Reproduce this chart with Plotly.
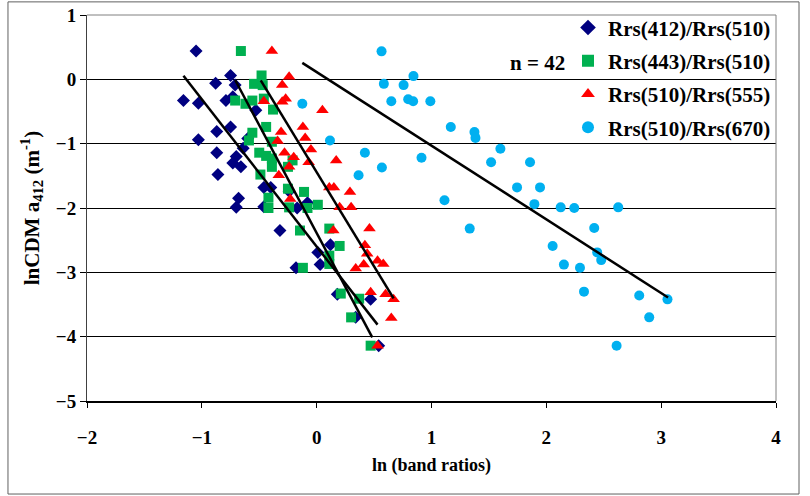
import plotly.graph_objects as go

# ---------------- data ----------------
names = ["Rrs(412)/Rrs(510)", "Rrs(443)/Rrs(510)", "Rrs(510)/Rrs(555)", "Rrs(510)/Rrs(670)"]

x412 = [-1.05, -0.75, -0.88, -0.71, -1.16, -1.03, -0.79, -0.73, -0.53, -0.75, -0.87, -1.03,
        -0.60, -0.64, -0.87, -0.70, -0.73, -0.66, -0.86, -0.46, -0.40, -0.68, -0.70, -0.32,
        -0.46, -0.17, -0.08, 0.12, 0.01, 0.03, -0.18, 0.18, 0.47, 0.34, 0.54, -0.24]
y412 = [0.44, 0.06, -0.06, -0.09, -0.33, -0.37, -0.33, -0.27, -0.48, -0.74, -0.81, -0.94,
        -0.92, -1.07, -1.14, -1.20, -1.30, -1.36, -1.48, -1.68, -1.68, -1.85, -1.99, -2.35,
        -1.98, -2.00, -1.92, -2.57, -2.69, -2.88, -2.93, -3.34, -3.42, -3.70, -4.14, -1.74]

x443 = [-0.66, -0.48, -0.545, -0.47, -0.71, -0.62, -0.56, -0.46, -0.38, -0.44, -0.56, -0.59,
        -0.39, -0.50, -0.44, -0.39, -0.49, -0.42, -0.42, -0.39, -0.25, -0.11, -0.24, 0.01,
        -0.145, 0.11, 0.20, 0.11, 0.11, -0.12, 0.21, 0.37, 0.30, 0.47, -0.08, -0.21, -0.25]
y443 = [0.44, 0.06, -0.07, -0.09, -0.33, -0.38, -0.33, -0.30, -0.47, -0.74, -0.83, -0.95,
        -0.97, -1.14, -1.19, -1.36, -1.48, -1.84, -2.00, -1.23, -1.70, -1.75, -1.99, -1.95,
        -2.35, -2.32, -2.59, -2.74, -2.87, -2.93, -3.33, -3.41, -3.70, -4.14, -2.00, -1.26, -1.36]

x555 = [-0.24, -0.30, -0.27, -0.30, 0.05, -0.12, -0.10, -0.31, -0.05, -0.28, -0.20, 0.17,
        -0.39, -0.46, -0.34, -0.33, -0.24, -0.07, 0.11, 0.15, 0.29, 0.20, 0.30, -0.23,
        0.145, 0.46, 0.42, 0.44, 0.53, 0.58, 0.41, 0.34, 0.47, 0.53, 0.60, 0.67, 0.65]
y555 = [0.04, -0.09, -0.30, -0.35, -0.48, -0.74, -0.91, -0.82, -1.09, -1.14, -1.21, -1.26,
        0.44, -0.34, -0.96, -1.49, -1.36, -1.29, -1.68, -1.68, -1.75, -1.99, -1.99, -1.86,
        -2.35, -2.32, -2.58, -2.71, -2.82, -2.87, -2.88, -2.94, -3.31, -4.14, -3.34, -3.42, -3.71]

x670 = [0.565, 0.585, 0.757, 0.843, 0.65, 0.797, 0.84, 0.99, 1.168, 1.374, 1.383, 0.913,
        0.568, 1.60, 1.519, 1.858, 1.745, 1.945, 1.113, 1.896, 2.125, 2.243, 2.626, 2.417,
        1.333, -0.125, 0.116, 0.42, 0.365, 2.055, 2.443, 2.478, 2.153, 2.293, 2.328, 2.809,
        3.055, 2.896, 2.612]
y670 = [0.435, -0.07, -0.09, 0.05, -0.34, -0.31, -0.34, -0.34, -0.74, -0.82, -0.91, -1.22,
        -1.37, -1.08, -1.29, -1.29, -1.68, -1.68, -1.88, -1.94, -1.99, -2.00, -1.99, -2.31,
        -2.32, -0.38, -0.95, -1.14, -1.49, -2.59, -2.69, -2.81, -2.88, -2.93, -3.30, -3.36,
        -3.42, -3.70, -4.14]

# linear trend lines: slope, intercept, x-range
trend_slope = [-2.288, -3.35, -2.93, -1.145]
trend_intercept = [-2.60, -2.389, -1.443, 0.113]
trend_xmin = [-1.16, -0.71, -0.487, -0.125]
trend_xmax = [0.53, 0.484, 0.67, 3.06]

n_label = "n = 42"

# ---------------- figure ----------------
xs = [x412, x443, x555, x670]
ys = [y412, y443, y555, y670]
colors = ["#000080", "#00B050", "#FF0000", "#00B0F0"]
symbols = ["diamond", "square", "triangle-up", "circle"]
sizes = [10, 10, 11, 10]

fig = go.Figure()
for i in range(4):
    fig.add_trace(go.Scatter(
        x=xs[i], y=ys[i], mode="markers", name=names[i],
        legendgroup=names[i],
        marker=dict(color=colors[i], symbol=symbols[i], size=sizes[i], line=dict(width=0)),
    ))
for i in range(4):
    x0, x1 = trend_xmin[i], trend_xmax[i]
    fig.add_trace(go.Scatter(
        x=[x0, x1],
        y=[trend_intercept[i] + trend_slope[i] * x0, trend_intercept[i] + trend_slope[i] * x1],
        mode="lines", line=dict(color="black", width=2.5), showlegend=False, hoverinfo="skip",
    ))

FONT = "Liberation Serif"
fig.update_layout(
    width=810, height=496,
    margin=dict(l=87, r=34, t=15, b=95, autoexpand=False),
    paper_bgcolor="white", plot_bgcolor="white",
    font=dict(family=FONT, size=16, color="black", weight="bold"),
    showlegend=True,
    legend=dict(
        x=1.0, y=1.02, xanchor="right", yanchor="top",
        bgcolor="rgba(0,0,0,0)", borderwidth=0,
        font=dict(family=FONT, size=21, color="black", weight="bold"),
        itemsizing="constant", tracegroupgap=3, traceorder="grouped",
        itemwidth=30,
    ),
    xaxis=dict(
        range=[-2, 4], dtick=1, tick0=-2, showgrid=False, zeroline=False, automargin=False,
        showline=True, linecolor="black", linewidth=2,
        ticks="outside", ticklen=5, tickcolor="black",
        tickfont=dict(family=FONT, size=19, color="black", weight="bold"),
        ticklabelstandoff=13,
        title=dict(text="ln (band ratios)", font=dict(family=FONT, size=18, weight="bold"), standoff=12),
    ),
    yaxis=dict(
        range=[-5, 1], dtick=1, showgrid=True, gridcolor="black", gridwidth=1, zeroline=False,
        automargin=False,
        showline=True, linecolor="#404040", linewidth=1,
        ticks="outside", ticklen=6, tickcolor="black",
        tickfont=dict(family=FONT, size=19, color="black", weight="bold"),
        title=dict(text="lnCDM a<sub>412</sub> (m<sup>-1</sup>)",
                   font=dict(family=FONT, size=21, weight="bold"), standoff=10),
    ),
)

# plot area frame (top & right) and chart area border
fig.add_shape(type="line", xref="paper", yref="paper", x0=0, x1=1, y0=1, y1=1,
              line=dict(color="#808080", width=1))
fig.add_shape(type="line", xref="paper", yref="paper", x0=1, x1=1, y0=0, y1=1,
              line=dict(color="#808080", width=1))
fig.add_shape(type="rect", xref="paper", yref="paper",
              x0=-0.1147, x1=1.0334, y0=-0.241, y1=1.034,
              line=dict(color="#606060", width=1), fillcolor="rgba(0,0,0,0)")

fig.add_annotation(text=n_label, xref="paper", yref="paper", x=0.697, y=0.876,
                   xanchor="right", yanchor="middle", showarrow=False,
                   font=dict(family=FONT, size=21, color="black", weight="bold"))

fig.write_html("out.html")
